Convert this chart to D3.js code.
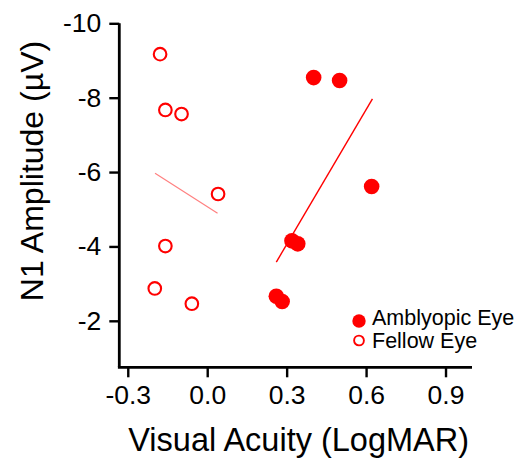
<!DOCTYPE html>
<html>
<head>
<meta charset="utf-8">
<script src="https://cdn.jsdelivr.net/npm/d3@7"></script>
<style>
  body { margin: 0; background: #fff; }
  text { font-family: "Liberation Sans", Arial, Helvetica, sans-serif; fill: #000; }
</style>
</head>
<body>
<div id="chart"></div>
<script>
// visual acuity (LogMAR) and N1 amplitude (uV) per eye
var amblyopicX = [0.402, 0.500, 0.621, 0.320, 0.342, 0.261, 0.283];
var amblyopicY = [-8.54, -8.46, -5.61, -4.15, -4.07, -2.66, -2.52];
var fellowX = [-0.178, -0.158, -0.097, 0.041, -0.158, -0.198, -0.058];
var fellowY = [-9.17, -7.67, -7.56, -5.41, -4.01, -2.87, -2.46];

// regression line end points
var amblyopicFitX = [0.261, 0.624];
var amblyopicFitY = [-3.58, -7.97];
var fellowFitX = [-0.197, 0.039];
var fellowFitY = [-5.97, -4.89];

var xTicks = [-0.3, 0.0, 0.3, 0.6, 0.9];
var yTicks = [-10, -8, -6, -4, -2];

function drawchart(chart_id) {
    var margin = {top: 23.3, right: 49, bottom: 90.7, left: 119.3},
        width = 521 - margin.left - margin.right,
        height = 458 - margin.top - margin.bottom;

    var svg = d3.select(chart_id).append("svg")
        .attr("width", 521)
        .attr("height", 458);

    var g = svg.append("g")
        .attr("transform", "translate(" + margin.left + "," + margin.top + ")");

    var x = d3.scaleLinear().domain([-0.332, 1.0]).range([0, width]);
    var y = d3.scaleLinear().domain([-10, -0.75]).range([0, height]);

    // axes (plain hyphen for the minus sign, as in the original)
    var xAxis = g.append("g")
        .attr("transform", "translate(0," + height + ")")
        .call(d3.axisBottom(x).tickValues(xTicks).tickFormat(function(d) { return d.toFixed(1); })
            .tickSize(10).tickSizeOuter(0).tickPadding(8));
    var yAxis = g.append("g")
        .call(d3.axisLeft(y).tickValues(yTicks).tickFormat(function(d) { return String(d); })
            .tickSize(10).tickSizeOuter(0).tickPadding(8));

    [xAxis, yAxis].forEach(function(a) {
        a.select(".domain").attr("stroke-width", 2.8).attr("stroke", "#000");
        a.selectAll(".tick line").attr("stroke-width", 2.4).attr("stroke", "#000");
        a.selectAll(".tick text").attr("font-size", 26.5)
            .style("font-family", "'Liberation Sans', Arial, sans-serif").attr("fill", "#000");
    });
    // stretch the y domain line down to meet the x axis
    yAxis.select(".domain").attr("d", "M0," + height + "V0");
    xAxis.select(".domain").attr("d", "M-1.4,0H" + width);

    // regression lines
    var line = d3.line()
        .x(function(d) { return x(d[0]); })
        .y(function(d) { return y(d[1]); });

    g.append("path")
        .datum(d3.zip(fellowFitX, fellowFitY))
        .attr("d", line)
        .attr("fill", "none")
        .attr("stroke", "#ff0000")
        .attr("stroke-opacity", 0.5)
        .attr("stroke-width", 1.2);

    g.append("path")
        .datum(d3.zip(amblyopicFitX, amblyopicFitY))
        .attr("d", line)
        .attr("fill", "none")
        .attr("stroke", "#ff0000")
        .attr("stroke-width", 1.4);

    // fellow eye: open circles
    g.selectAll(".fellow")
        .data(d3.zip(fellowX, fellowY))
        .enter().append("circle")
        .attr("class", "fellow")
        .attr("cx", function(d) { return x(d[0]); })
        .attr("cy", function(d) { return y(d[1]); })
        .attr("r", 6.3)
        .attr("fill", "#fff")
        .attr("stroke", "#ff0000")
        .attr("stroke-width", 2.1);

    // amblyopic eye: filled circles
    g.selectAll(".amb")
        .data(d3.zip(amblyopicX, amblyopicY))
        .enter().append("circle")
        .attr("class", "amb")
        .attr("cx", function(d) { return x(d[0]); })
        .attr("cy", function(d) { return y(d[1]); })
        .attr("r", 7.8)
        .attr("fill", "#ff0000");

    // axis titles
    svg.append("text")
        .attr("x", margin.left + width / 2 + 3)
        .attr("y", 451)
        .attr("text-anchor", "middle")
        .attr("font-size", 32.5)
        .text("Visual Acuity (LogMAR)");

    svg.append("text")
        .attr("transform", "translate(43,171) rotate(-90)")
        .attr("text-anchor", "middle")
        .attr("font-size", 32)
        .text("N1 Amplitude (\u00b5V)");

    // legend
    var legend = svg.append("g").attr("transform", "translate(359,321)");
    legend.append("circle").attr("r", 6.7).attr("fill", "#ff0000");
    legend.append("text").attr("x", 13).attr("y", 4).attr("font-size", 21.5).text("Amblyopic Eye");
    legend.append("circle").attr("cy", 19.5).attr("r", 4.9)
        .attr("fill", "#fff").attr("stroke", "#ff0000").attr("stroke-width", 1.9);
    legend.append("text").attr("x", 13).attr("y", 27.3).attr("font-size", 21.5).text("Fellow Eye");
}

drawchart("#chart");
</script>
</body>
</html>
